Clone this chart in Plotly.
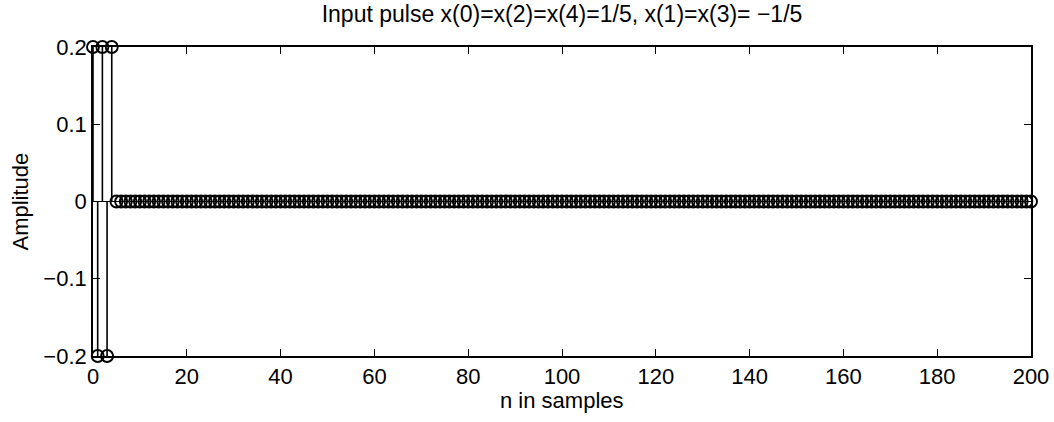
import plotly.graph_objects as go

# ---- data ----
n_samples = list(range(0, 201))
pulse_values = [0.2, -0.2, 0.2, -0.2, 0.2]
zero_tail = [0.0] * (len(n_samples) - len(pulse_values))
amplitude = pulse_values + zero_tail

x_ticks = [0, 20, 40, 60, 80, 100, 120, 140, 160, 180, 200]
y_ticks = [-0.2, -0.1, 0, 0.1, 0.2]
y_tick_text = ["\u22120.2", "\u22120.1", "0", "0.1", "0.2"]

title_text = "Input pulse x(0)=x(2)=x(4)=1/5, x(1)=x(3)= \u22121/5"
x_label = "n in samples"
y_label = "Amplitude"

# ---- stems built from data ----
stem_x, stem_y = [], []
for n, a in zip(n_samples, amplitude):
    stem_x += [n, n, None]
    stem_y += [0, a, None]

FONT = "Liberation Sans, Arial, Helvetica, sans-serif"
W, H = 1054, 422
ML, MR, MT, MB = 93, 23, 47, 66

fig = go.Figure()
fig.add_trace(go.Scatter(x=[n_samples[0], n_samples[-1]], y=[0, 0], mode="lines",
                         line=dict(color="black", width=1.2), hoverinfo="skip",
                         showlegend=False))
fig.add_trace(go.Scatter(x=stem_x, y=stem_y, mode="lines",
                         line=dict(color="black", width=1.6), hoverinfo="skip",
                         showlegend=False))
fig.add_trace(go.Scatter(x=n_samples, y=amplitude, mode="markers",
                         marker=dict(symbol="circle-open", size=12, color="black",
                                     line=dict(width=1.9, color="black")),
                         cliponaxis=False, showlegend=False))

axis_common = dict(showline=True, linecolor="black", linewidth=1.7, mirror="ticks",
                   ticks="inside", ticklen=7, tickcolor="black", tickwidth=1.3,
                   showgrid=False, zeroline=False, automargin=False,
                   tickfont=dict(family=FONT, size=22, color="black"))

fig.update_xaxes(range=[0, 200], tickvals=x_ticks, **axis_common)
fig.update_yaxes(range=[-0.2, 0.2], tickvals=y_ticks, ticktext=y_tick_text, **axis_common)

plot_w = W - ML - MR
plot_h = H - MT - MB

fig.add_annotation(text=x_label, x=0.5, xref="paper", y=(H - MB - 400) / plot_h, yref="paper",
                   xanchor="center", yanchor="middle", showarrow=False,
                   font=dict(family=FONT, size=22, color="black"))
fig.add_annotation(text=y_label, x=(20 - ML) / plot_w, xref="paper", y=0.5, yref="paper",
                   xanchor="center", yanchor="middle", showarrow=False, textangle=-90,
                   font=dict(family=FONT, size=22, color="black"))

fig.update_layout(
    width=W, height=H,
    margin=dict(l=ML, r=MR, t=MT, b=MB),
    paper_bgcolor="white", plot_bgcolor="white",
    title=dict(text=title_text, x=0.5, xref="paper", xanchor="center",
               y=1 - 14 / H, yref="container", yanchor="middle",
               font=dict(family=FONT, size=23, color="black")),
)

fig.write_html("out.html")
